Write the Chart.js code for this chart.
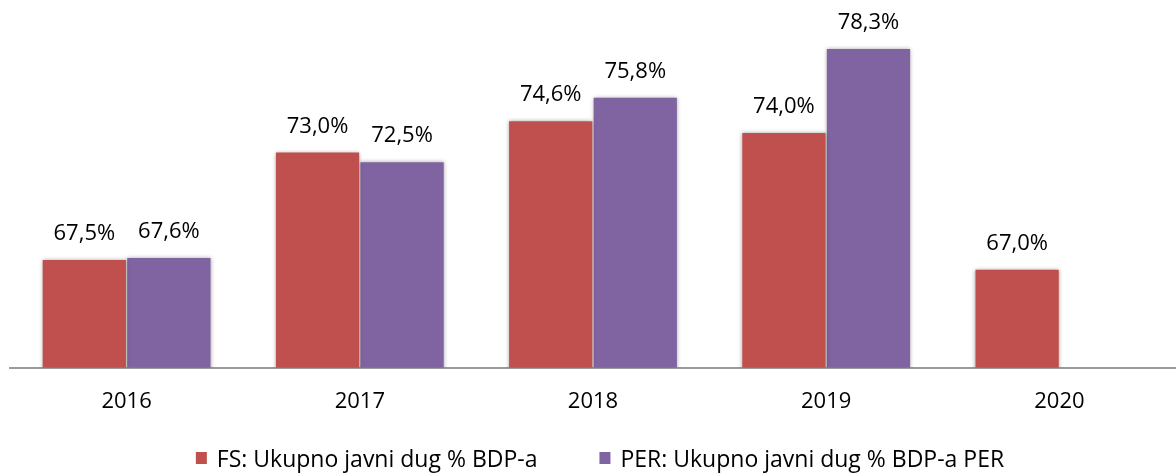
<!DOCTYPE html>
<html>
<head>
<script src="https://cdn.jsdelivr.net/npm/chart.js@4.4.0/dist/chart.umd.min.js"></script>
<style>
  body { margin: 0; background: #fff; }
  #wrap { width: 1176px; height: 474px; }
</style>
</head>
<body>
<div id="wrap"><canvas id="myChart" width="1176" height="474"></canvas></div>
<script>
const years = ['2016', '2017', '2018', '2019', '2020'];
const fsDebt = [67.5, 73.0, 74.6, 74.0, 67.0];
const perDebt = [67.6, 72.5, 75.8, 78.3, null];
const seriesNames = ['FS: Ukupno javni dug % BDP-a', 'PER: Ukupno javni dug % BDP-a PER'];
const seriesColors = ['#C0504D', '#8064A2'];

// bar labels like "67,5%"
const barLabels = {
  id: 'barLabels',
  afterDatasetsDraw(chart) {
    const ctx = chart.ctx;
    ctx.save();
    ctx.font = '22px "Open Sans"';
    ctx.fillStyle = '#000';
    ctx.textAlign = 'center';
    ctx.textBaseline = 'alphabetic';
    chart.data.datasets.forEach((ds, i) => {
      chart.getDatasetMeta(i).data.forEach((bar, j) => {
        const v = ds.data[j];
        if (v == null) return;
        ctx.fillText(v.toFixed(1).replace('.', ',') + '%', bar.x, bar.y - 20);
      });
    });
    ctx.restore();
  }
};

// soft shadow around bars
const barShadow = {
  id: 'barShadow',
  beforeDatasetsDraw(chart) {
    chart.ctx.save();
    chart.ctx.shadowColor = 'rgba(0,0,0,0.35)';
    chart.ctx.shadowBlur = 4;
  },
  afterDatasetsDraw(chart) {
    chart.ctx.restore();
  }
};

// legend drawn by hand so spacing can follow the original
const bottomLegend = {
  id: 'bottomLegend',
  afterDraw(chart) {
    const ctx = chart.ctx;
    const box = 11, gap = 10, itemGap = 62;
    ctx.save();
    ctx.font = '23px "Open Sans"';
    ctx.textBaseline = 'alphabetic';
    const widths = chart.data.datasets.map(ds => ctx.measureText(ds.label).width);
    let total = 0;
    widths.forEach((w, i) => { total += box + gap + w + (i ? itemGap : 0); });
    const area = chart.chartArea;
    let x = (area.left + area.right) / 2 + 7 - total / 2;
    const y = chart.height - 7;
    chart.data.datasets.forEach((ds, i) => {
      ctx.fillStyle = ds.backgroundColor;
      ctx.fillRect(x, y - 15, box, 12);
      ctx.fillStyle = '#000';
      ctx.fillText(ds.label, x + box + gap, y);
      x += box + gap + widths[i] + itemGap;
    });
    ctx.restore();
  }
};

new Chart(document.getElementById('myChart'), {
  type: 'bar',
  data: {
    labels: years,
    datasets: [{
      label: seriesNames[0],
      data: fsDebt,
      backgroundColor: seriesColors[0],
      categoryPercentage: 0.725,
      barPercentage: 0.985
    }, {
      label: seriesNames[1],
      data: perDebt,
      backgroundColor: seriesColors[1],
      categoryPercentage: 0.725,
      barPercentage: 0.985
    }]
  },
  options: {
    responsive: false,
    animation: false,
    layout: { padding: { left: 10, right: 0, top: 0, bottom: 46 } },
    plugins: {
      legend: { display: false },
      tooltip: { enabled: false }
    },
    scales: {
      x: {
        grid: { display: false },
        border: { color: '#9a9a9a', width: 2 },
        ticks: { color: '#000', font: { family: '"Open Sans"', size: 22 }, padding: 13 }
      },
      y: {
        display: false,
        min: 62,
        max: 80.8
      }
    }
  },
  plugins: [barShadow, barLabels, bottomLegend]
});
</script>
</body>
</html>
